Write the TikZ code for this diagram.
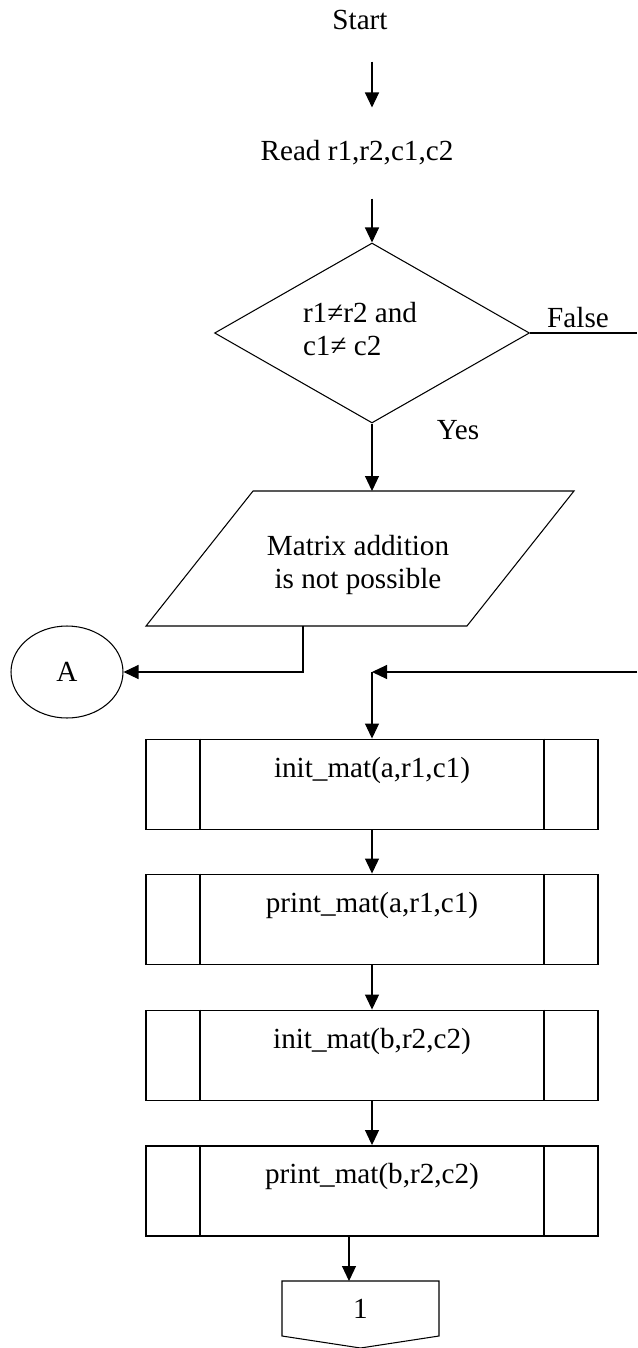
\documentclass[tikz,border=0pt]{standalone}
\usepackage{fontspec}
\setmainfont{Liberation Serif}
\usetikzlibrary{arrows.meta,shapes.geometric}

\begin{document}
\begin{tikzpicture}[x=0.02cm,y=-0.02cm,
  >={Triangle[length=0.3cm,width=0.28cm]},line width=0.6pt,
  font=\fontsize{16.6}{19}\selectfont,
  decision/.style={draw,diamond,minimum width=6.3cm,minimum height=3.6cm,inner sep=0pt},
  subproc/.style={draw,line width=1.1pt,minimum width=9.04cm,minimum height=1.8cm,
    text height=0.4cm,text depth=0.7cm,inner sep=0pt},
  connector/.style={draw,ellipse,minimum width=2.24cm,minimum height=1.84cm,inner sep=0pt}]
\useasboundingbox (0,0) rectangle (637,1348);
\node[minimum height=1.64cm] (start) at (360,20) {Start};
\node[minimum height=1.8cm] (read) at (357,153) {Read r1,r2,c1,c2};
\node[decision] (test) at (372,333) {};
\node[align=left] (cond) at (360,329) {r1≠r2 and\\c1≠ c2};
\node (false) at (578,318) {False};
\node (yes) at (458,430) {Yes};
\node[minimum width=6.42cm,minimum height=2.7cm,outer sep=0pt] (msg) at (360,558.5) {};
\node[align=center] (msgtext) at (358,565) {Matrix addition\\is not possible};
\node[connector] (A) at (67,672) {A};
\coordinate (fend) at (637,333);
\coordinate (back) at (637,672);
\coordinate (join) at (372,672);
\node[subproc] (init1) at (372,784.5) {init\_mat(a,r1,c1)};
\node[subproc] (print1) at (372,919.5) {print\_mat(a,r1,c1)};
\node[subproc] (init2) at (372,1055.5) {init\_mat(b,r2,c2)};
\node[subproc] (print2) at (372,1191) {print\_mat(b,r2,c2)};
\node[minimum width=3.14cm,minimum height=1.1cm,outer sep=0pt] (page) at (360.5,1308.5) {1};
% outlines of the special shapes
\draw ([xshift=1.07cm]msg.north west) -- ([xshift=1.07cm]msg.north east) -- ([xshift=-1.07cm]msg.south east) -- ([xshift=-1.07cm]msg.south west) -- cycle;
\foreach \b in {init1,print1,init2,print2}{
  \draw[line width=1.1pt] ([xshift=1.1cm]\b.north west) -- ([xshift=1.1cm]\b.south west);
  \draw[line width=1.1pt] ([xshift=-1.1cm]\b.north east) -- ([xshift=-1.1cm]\b.south east);
}
\draw (page.south west) -- (page.north west) -- (page.north east) -- (page.south east) -- ([yshift=-0.24cm]page.south) -- cycle;
% flow
\draw[->] (start.south -| test.north) -- (read.north -| test.north);
\draw[->] (read.south -| test.north) -- (test.north);
\draw (test.east) -- (fend);
\draw[->] (test.south) -- (test.south |- msg.north);
\draw[->] ([xshift=-1.14cm]msg.south) |- (A.east);
\draw[->] (back) -- (join);
\draw[->] (join) -- (init1.north);
\draw[->] (init1) -- (print1);
\draw[->] (print1) -- (init2);
\draw[->] (init2) -- (print2);
\draw[->] ([xshift=-0.46cm]print2.south) -- ([xshift=-0.46cm]print2.south |- page.north);
\end{tikzpicture}
\end{document}
